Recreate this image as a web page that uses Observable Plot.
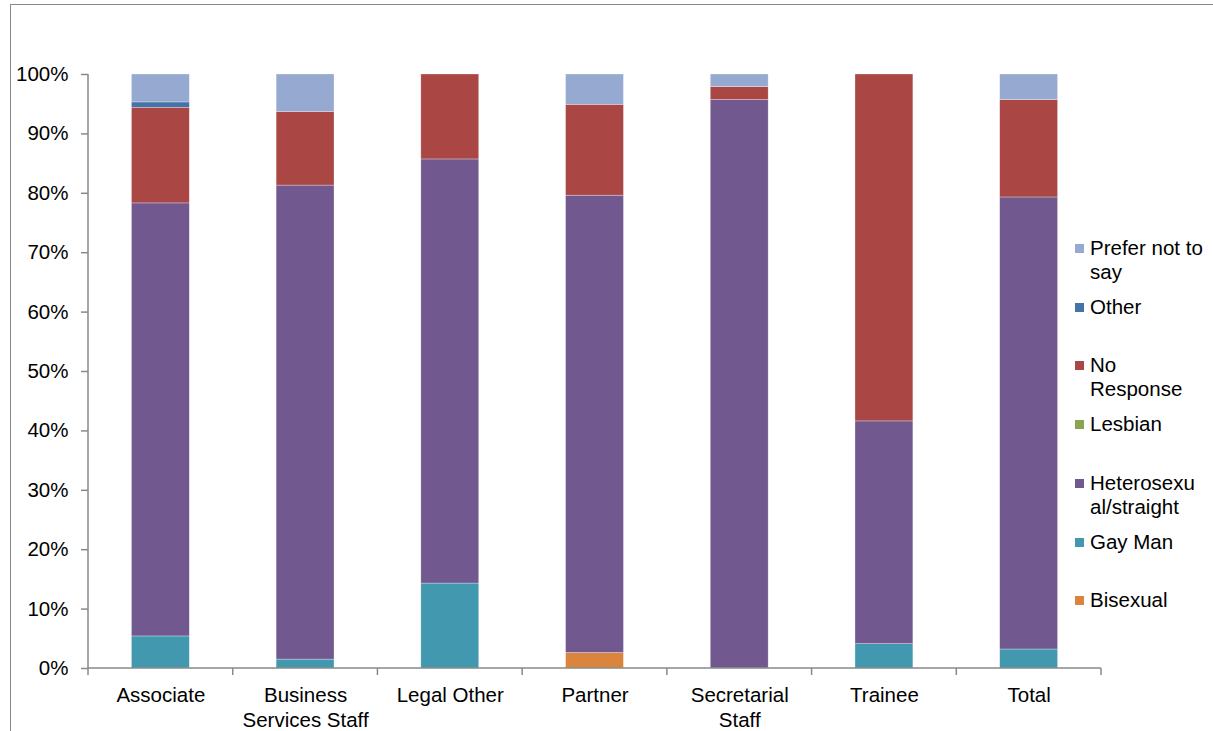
<!DOCTYPE html>
<html>
<head>
<meta charset="utf-8">
<script src="https://cdn.jsdelivr.net/npm/d3@7"></script>
<script src="https://cdn.jsdelivr.net/npm/@observablehq/plot@0.6"></script>
<style>
  html, body { margin: 0; padding: 0; background: #fff; }
  #wrap { position: relative; width: 1213px; height: 731px; overflow: hidden; font-family: "Liberation Sans", Arial, sans-serif; }
  #frame { position: absolute; left: 10px; top: 4px; width: 1400px; height: 900px; border: 1.5px solid #888; box-sizing: border-box; }
  #chart { position: absolute; left: 0; top: 0; }
  #legend { position: absolute; left: 1075px; top: 0; font-size: 20.5px; color: #000; }
  .item { position: absolute; left: 0; white-space: nowrap; line-height: 24px; }
  .sw { position: absolute; left: 0; top: 8px; width: 9px; height: 9px; }
  .lab { position: absolute; left: 15px; top: 0; }
</style>
</head>
<body>
<div id="wrap">
  <div id="frame"></div>
  <div id="chart"></div>
  <div id="legend"></div>
</div>
<script>
// Categories (x axis)
const categories = ["Associate", "Business Services Staff", "Legal Other", "Partner", "Secretarial Staff", "Trainee", "Total"];
const categoryLabels = ["Associate", "Business\nServices Staff", "Legal Other", "Partner", "Secretarial\nStaff", "Trainee", "Total"];

// Series, stacked bottom to top
const seriesNames = ["Bisexual", "Gay Man", "Heterosexual/straight", "Lesbian", "No Response", "Other", "Prefer not to say"];
const seriesLegendLabels = ["Bisexual", "Gay Man", "Heterosexu\nal/straight", "Lesbian", "No\nResponse", "Other", "Prefer not to\nsay"];
const seriesColors = ["#DB843D", "#4198AF", "#71588F", "#89A54E", "#AA4643", "#4572A7", "#95A9D1"];

// Values (% of each category)
const bisexual   = [0,    0,    0,    2.6,  0,    0,    0];
const gayMan     = [5.4,  1.5,  14.3, 0,    0,    4.1,  3.2];
const hetero     = [72.9, 79.8, 71.4, 77.0, 95.7, 37.5, 76.1];
const lesbian    = [0,    0,    0,    0,    0,    0,    0];
const noResponse = [16.1, 12.4, 14.3, 15.3, 2.2,  58.4, 16.4];
const other      = [0.9,  0,    0,    0,    0,    0,    0];
const preferNot  = [4.7,  6.3,  0,    5.1,  2.1,  0,    4.3];

const yTicks = [0, 10, 20, 30, 40, 50, 60, 70, 80, 90, 100];

const seriesValues = [bisexual, gayMan, hetero, lesbian, noResponse, other, preferNot];
const rows = [];
seriesNames.forEach((s, si) => {
  categories.forEach((c, ci) => {
    rows.push({category: c, series: s, value: seriesValues[si][ci]});
  });
});

const labelOf = new Map(categories.map((c, i) => [c, categoryLabels[i]]));

// axis lines and tick marks between categories on the x axis
function axisLines(index, scales, values, dims) {
  const x = scales.x, y = scales.y;
  const step = x.step(), bw = x.bandwidth();
  const g = d3.create("svg:g");
  const y0 = y(0), y1 = y(100);
  const edges = categories.map(c => x(c) + bw / 2 - step / 2);
  edges.push(x(categories[categories.length - 1]) + bw / 2 + step / 2);
  for (const ex of edges) {
    g.append("line").attr("x1", ex).attr("x2", ex).attr("y1", y0).attr("y2", y0 + 7)
      .attr("stroke", "#888").attr("stroke-width", 1.5);
  }
  g.append("line").attr("x1", edges[0]).attr("x2", edges[edges.length - 1]).attr("y1", y0).attr("y2", y0)
    .attr("stroke", "#888").attr("stroke-width", 1.5);
  g.append("line").attr("x1", edges[0]).attr("x2", edges[0]).attr("y1", y0).attr("y2", y1)
    .attr("stroke", "#888").attr("stroke-width", 1.5);
  return g.node();
}

const chart = Plot.plot({
  width: 1213,
  height: 731,
  marginLeft: 88,
  marginRight: 112,
  marginTop: 74,
  marginBottom: 63,
  style: {fontFamily: "'Liberation Sans', Arial, sans-serif", fontSize: "20.5px", color: "#000", background: "transparent"},
  x: {domain: categories, paddingInner: 0.6, paddingOuter: 0.3, round: false, label: null},
  y: {domain: [0, 100], label: null},
  color: {domain: seriesNames, range: seriesColors},
  marks: [
    Plot.barY(rows, {
      x: "category", y: "value", fill: "series",
      order: seriesNames,
      stroke: "#ffffff", strokeWidth: 0.6, strokeOpacity: 0.5
    }),
    Plot.axisY({ticks: yTicks, tickFormat: d => d + "%", tickSize: 7, tickPadding: 13, stroke: "#888", strokeWidth: 1.5, fontSize: 20.5, label: null}),
    Plot.axisX({tickSize: 0, tickPadding: 16, tickFormat: c => labelOf.get(c), fontSize: 20.5, label: null, lineHeight: 1.2}),
    axisLines
  ]
});
document.getElementById("chart").appendChild(chart);

// Legend (top to bottom = reverse stacking order)
const legend = d3.select("#legend");
const order = d3.range(seriesNames.length).reverse();
order.forEach((si, k) => {
  const item = legend.append("div").attr("class", "item").style("top", (236 + k * 58.7) + "px");
  item.append("div").attr("class", "sw").style("background", seriesColors[si]);
  item.append("div").attr("class", "lab").html(seriesLegendLabels[si].replace("\n", "<br>"));
});
</script>
</body>
</html>
